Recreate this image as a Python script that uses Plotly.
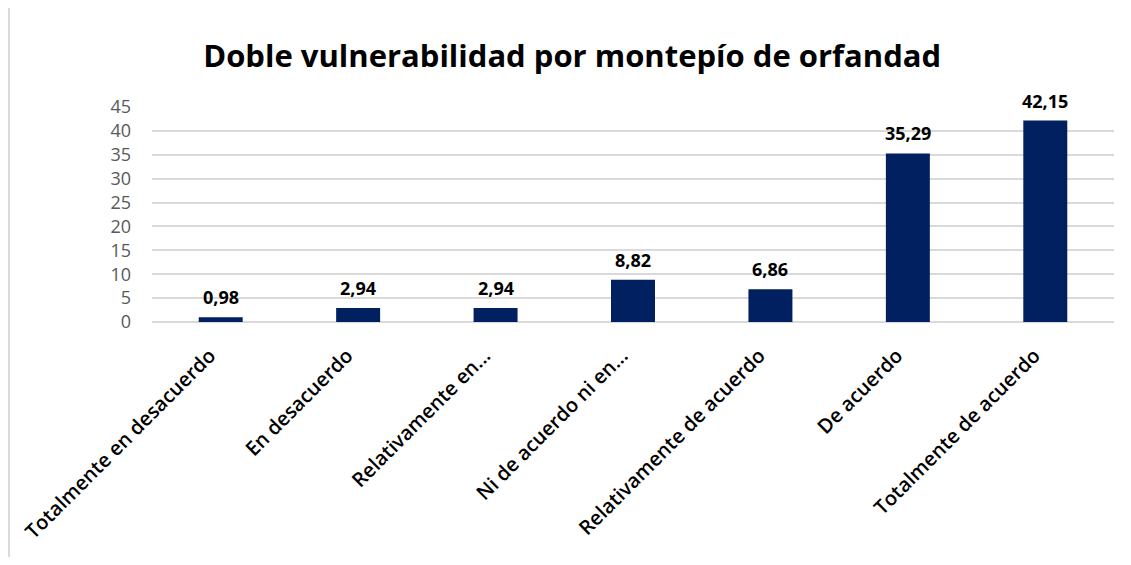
import plotly.graph_objects as go

categories = ["Totalmente en desacuerdo", "En desacuerdo", "Relativamente en...",
              "Ni de acuerdo ni en...", "Relativamente de acuerdo", "De acuerdo",
              "Totalmente de acuerdo"]
values = [0.98, 2.94, 2.94, 8.82, 6.86, 35.29, 42.15]
y_ticks = [0, 5, 10, 15, 20, 25, 30, 35, 40, 45]

fig = go.Figure()
fig.add_trace(go.Bar(
    x=categories, y=values,
    marker=dict(color="#002060", line=dict(width=0)),
    cliponaxis=False,
))
for c, v in zip(categories, values):
    fig.add_annotation(x=c, y=v, text="<b>" + f"{v:.2f}".replace(".", ",") + "</b>",
                       showarrow=False, yanchor="bottom", yshift=6,
                       font=dict(family="Open Sans, sans-serif", size=18, color="#000000"))

fig.update_layout(
    width=1115, height=549,
    margin=dict(l=144, r=9, t=99, b=235, autoexpand=False),
    paper_bgcolor="white", plot_bgcolor="white",
    separators=",.",
    bargap=0.68,
    showlegend=False,
    title=dict(text="<b>Doble vulnerabilidad por montepío de orfandad</b>",
               x=0.506, xref="container", xanchor="center", y=0.912, yanchor="middle",
               font=dict(family="Open Sans, sans-serif", size=31, color="#000000")),
    xaxis=dict(tickangle=-45, showgrid=False, showline=False, ticks="", automargin=False,
               ticklabelstandoff=17, ticklabelshift=-11,
               tickfont=dict(family="Open Sans, sans-serif", size=20, weight=600, color="#000000")),
    yaxis=dict(range=[0, 45], tickvals=y_ticks, showgrid=True, gridcolor="#d9d9d9", gridwidth=1.5,
               zeroline=True, zerolinecolor="#d9d9d9", zerolinewidth=1.5, showline=False, ticks="",
               automargin=False, ticklabelstandoff=20,
               tickfont=dict(family="Open Sans, sans-serif", size=18, color="#595959")),
)
fig.add_shape(type="line", xref="paper", yref="paper", x0=-0.1486, x1=-0.1486, y0=-1.17, y1=1.5,
              line=dict(color="#d9d9d9", width=2))
fig.write_html("out.html")
